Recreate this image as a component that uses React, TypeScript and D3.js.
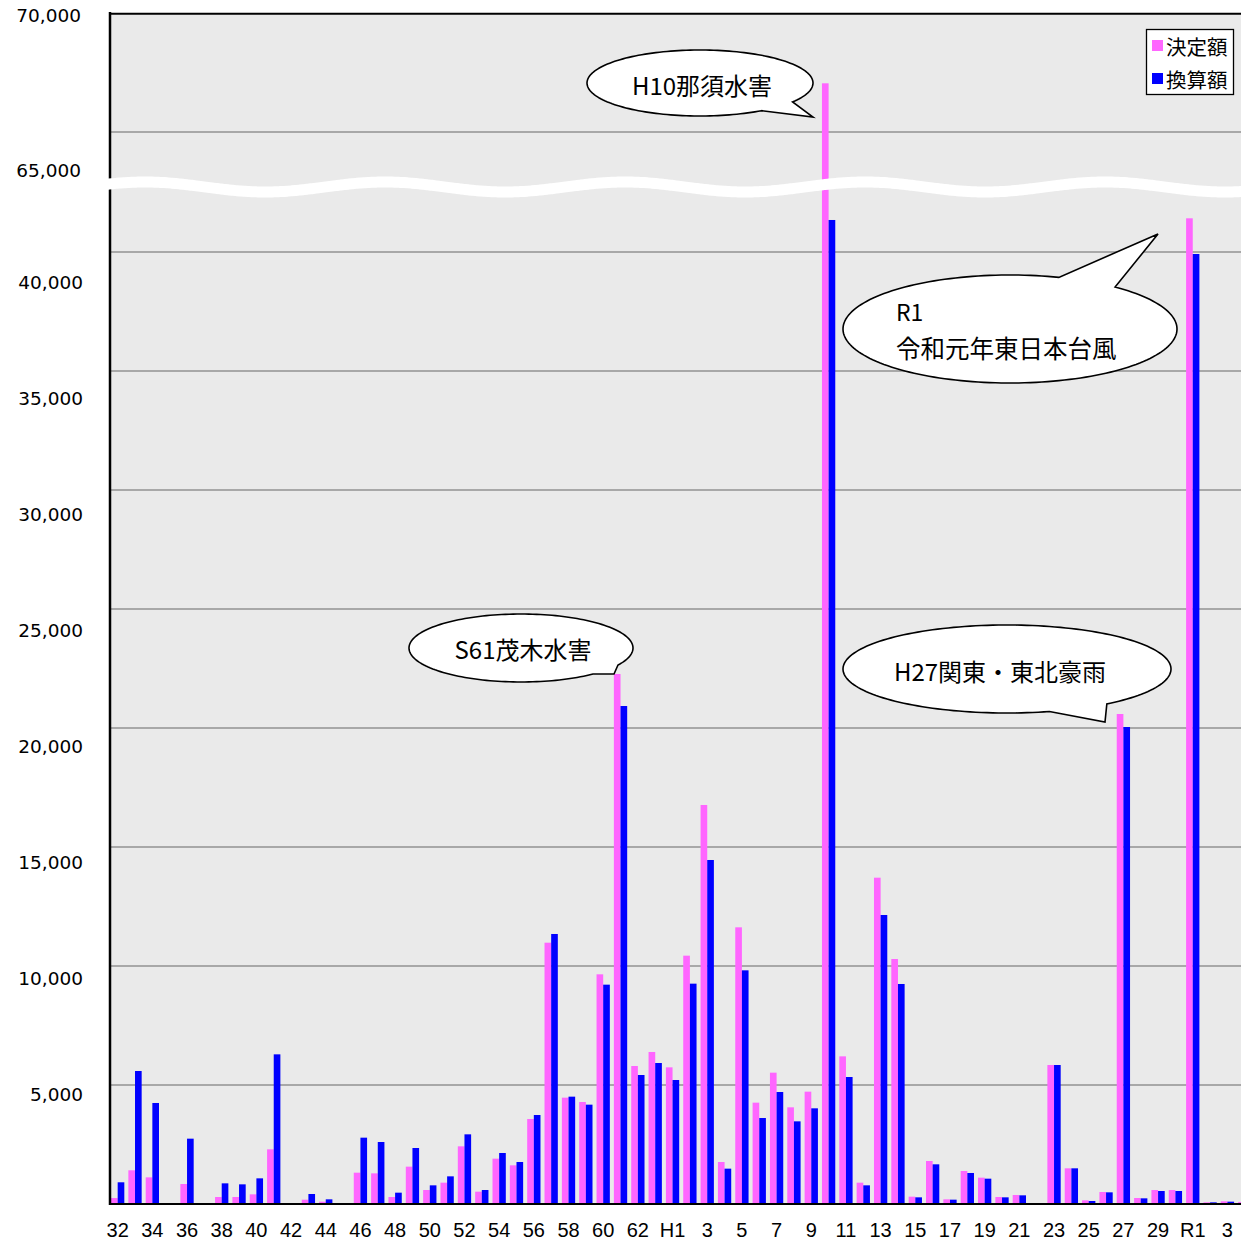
import React from "react";
import * as d3 from "d3";

// ---------- data ----------
const categories = [
  "S32","S33","S34","S35","S36","S37","S38","S39","S40","S41",
  "S42","S43","S44","S45","S46","S47","S48","S49","S50","S51",
  "S52","S53","S54","S55","S56","S57","S58","S59","S60","S61",
  "S62","S63","H1","H2","H3","H4","H5","H6","H7","H8",
  "H9","H10","H11","H12","H13","H14","H15","H16","H17","H18",
  "H19","H20","H21","H22","H23","H24","H25","H26","H27","H28",
  "H29","H30","R1","R2","R3","R4",
];
const tickLabels = [
  "32","","34","","36","","38","","40","",
  "42","","44","","46","","48","","50","",
  "52","","54","","56","","58","","60","",
  "62","","H1","","3","","5","","7","",
  "9","","11","","13","","15","","17","",
  "19","","21","","23","","25","","27","",
  "29","","R1","","3","",
];
// 決定額
const decided = [
  250, 1416, 1120, 0, 840, 0, 294, 294, 406, 2297,
  0, 182, 98, 0, 1316, 1288, 294, 1569, 588, 896,
  2423, 518, 1905, 1625, 3571, 10979, 4468, 4286, 9650, 22269,
  5798, 6387, 5742, 10434, 16765, 1765, 11625, 4258, 5518, 4062,
  4720, 67046, 6204, 896, 13711, 10294, 308, 1807, 196, 1387,
  1106, 294, 378, 0, 5840, 1499, 154, 504, 20588, 252,
  588, 588, 41416, 70, 112, 84,
];
// 換算額
const converted = [
  912, 5588, 4244, 0, 2745, 0, 868, 826, 1078, 6288,
  0, 420, 196, 0, 2787, 2605, 476, 2353, 784, 1162,
  2927, 588, 2143, 1765, 3739, 11345, 4510, 4174, 9216, 20924,
  5420, 5924, 5210, 9258, 14454, 1485, 9818, 3613, 4706, 3473,
  4020, 41345, 5336, 784, 12143, 9244, 280, 1667, 182, 1303,
  1064, 280, 364, 0, 5840, 1499, 126, 490, 20042, 238,
  546, 546, 39916, 70, 98, 80,
];
const seriesNames = ["決定額", "換算額"];
const lowerTicks = [5000, 10000, 15000, 20000, 25000, 30000, 35000, 40000];
const upperTicks = [65000, 70000];
const callouts = [
  { lines: ["H10那須水害"] },
  { lines: ["S61茂木水害"] },
  { lines: ["R1", "令和元年東日本台風"] },
  { lines: ["H27関東・東北豪雨"] },
];

// ---------- layout ----------
const W = 1241;
const H = 1242;
const LEFT = 110;
const TOP = 13;
const BASE = 1204;
const STEP = 17.34;
const COLORS = ["#FF66FF", "#0000FF"];

const x = d3
  .scaleBand<string>()
  .domain(categories)
  .range([109, 109 + STEP * categories.length])
  .padding(0);
const inner = d3.scaleBand<string>().domain(["d", "c"]).range([0, 13.3]);
const innerOff = (STEP - 13.3) / 2;

const yLower = d3.scaleLinear().domain([0, 40000]).range([BASE, BASE - 40 * 23.8]);
const yUpper = d3.scaleLinear().domain([65000, 70000]).range([132, TOP]);
const yPos = (v: number) => (v > 50000 ? yUpper(v) : yLower(v));

const labelLower = d3.scaleLinear().domain([5000, 40000]).range([1094, 282]);
const labelUpper = d3.scaleLinear().domain([65000, 70000]).range([170, 15]);

const calloutGeom = [
  { cx: 700, cy: 83, rx: 113, ry: 33, a1: 35, a2: 57, tip: [813, 117], tx: 702, ty: [84], anchor: "middle", fs: [24] },
  { cx: 521, cy: 648, rx: 112, ry: 34, a1: 30, a2: 50, tip: [614, 674], tx: 523, ty: [648], anchor: "middle", fs: [24] },
  { cx: 1010, cy: 329, rx: 167, ry: 54, a1: -73, a2: -51, tip: [1158, 234], tx: 896, ty: [311, 347], anchor: "start", fs: [23, 24.5] },
  { cx: 1007, cy: 669, rx: 164, ry: 44, a1: 52.5, a2: 75, tip: [1105, 722], tx: 1000, ty: [670], anchor: "middle", fs: [24] },
];

function calloutPath(g: any) {
  const pts: [number, number][] = [];
  const end = g.a1 + 360;
  for (let a = g.a2; a < end; a += 2) {
    const r = (a * Math.PI) / 180;
    pts.push([g.cx + g.rx * Math.cos(r), g.cy + g.ry * Math.sin(r)]);
  }
  const re = (end * Math.PI) / 180;
  pts.push([g.cx + g.rx * Math.cos(re), g.cy + g.ry * Math.sin(re)]);
  pts.push(g.tip as [number, number]);
  return (d3.line()(pts) || "") + "Z";
}

function wavePath() {
  const pts: [number, number][] = [];
  for (let px = 104; px <= W + 5; px += 4) {
    pts.push([px, 187 - 5 * Math.cos((2 * Math.PI * (px - 145)) / 240)]);
  }
  return d3.line().curve(d3.curveBasis)(pts) || "";
}

const numFmt = d3.format(",");

export default function App() {
  const series = [decided, converted];
  return (
    <svg
      width={W}
      height={H}
      style={{ position: "absolute", left: 0, top: 0, background: "#fff" }}
      fontFamily="'DejaVu Sans', sans-serif"
    >
      {/* plot background */}
      <rect x={LEFT} y={TOP} width={W - LEFT} height={BASE - TOP} fill="#EAEAEA" />
      {/* gridlines */}
      {lowerTicks.map((t) => (
        <line key={"g" + t} x1={LEFT} x2={W} y1={yLower(t)} y2={yLower(t)} stroke="#666" strokeWidth={1} />
      ))}
      <line x1={LEFT} x2={W} y1={yUpper(upperTicks[0])} y2={yUpper(upperTicks[0])} stroke="#666" strokeWidth={1} />
      {/* bars */}
      {categories.map((c, i) => (
        <g key={c}>
          {series.map((s, k) => {
            const v = s[i];
            if (!v) return null;
            const y = yPos(v);
            return (
              <rect
                key={k}
                x={(x(c) as number) + innerOff + (inner(k === 0 ? "d" : "c") as number)}
                y={y}
                width={inner.bandwidth()}
                height={BASE - y}
                fill={COLORS[k]}
              />
            );
          })}
        </g>
      ))}
      {/* frame */}
      <line x1={LEFT} x2={LEFT} y1={TOP - 1} y2={BASE + 1} stroke="#000" strokeWidth={2.5} />
      <line x1={LEFT - 1} x2={W} y1={TOP + 0.7} y2={TOP + 0.7} stroke="#000" strokeWidth={2} />
      <line x1={LEFT - 1} x2={W} y1={BASE} y2={BASE} stroke="#000" strokeWidth={2} />
      {/* break wave */}
      <path d={wavePath()} fill="none" stroke="#fff" strokeWidth={11} />
      {/* y labels */}
      {lowerTicks.map((t) => (
        <text key={"l" + t} x={83} y={labelLower(t)} textAnchor="end" dominantBaseline="central" fontSize={18.5} fill="#000">
          {numFmt(t)}
        </text>
      ))}
      {upperTicks.map((t) => (
        <text key={"u" + t} x={81} y={labelUpper(t)} textAnchor="end" dominantBaseline="central" fontSize={18.5} fill="#000">
          {numFmt(t)}
        </text>
      ))}
      {/* x labels */}
      {categories.map((c, i) =>
        tickLabels[i] ? (
          <text
            key={"x" + c}
            x={(x(c) as number) + STEP / 2}
            y={1237}
            textAnchor="middle"
            fontSize={20}
            fontFamily="'Liberation Sans', Arial, sans-serif"
            fill="#000"
          >
            {tickLabels[i]}
          </text>
        ) : null
      )}
      {/* callouts */}
      {callouts.map((co, i) => {
        const g = calloutGeom[i];
        return (
          <g key={"c" + i}>
            <path d={calloutPath(g)} fill="#fff" stroke="#000" strokeWidth={1.6} strokeLinejoin="miter" />
            {co.lines.map((ln, j) => (
              <text
                key={j}
                x={g.tx}
                y={g.ty[j]}
                textAnchor={g.anchor as any}
                dominantBaseline="central"
                fontSize={g.fs[j]}
                fontFamily="'Noto Sans CJK JP', sans-serif"
                fill="#000"
              >
                {ln}
              </text>
            ))}
          </g>
        );
      })}
      {/* legend */}
      <g>
        <rect x={1146.5} y={29.5} width={87} height={65} fill="#fff" stroke="#000" strokeWidth={1.3} />
        {seriesNames.map((n, k) => (
          <g key={n}>
            <rect x={1152} y={40 + k * 33} width={11} height={11} fill={COLORS[k]} />
            <text
              x={1166}
              y={45.5 + k * 33}
              dominantBaseline="central"
              fontSize={20.5}
              fontFamily="'Noto Sans CJK JP', sans-serif"
              fill="#000"
            >
              {n}
            </text>
          </g>
        ))}
      </g>
    </svg>
  );
}
